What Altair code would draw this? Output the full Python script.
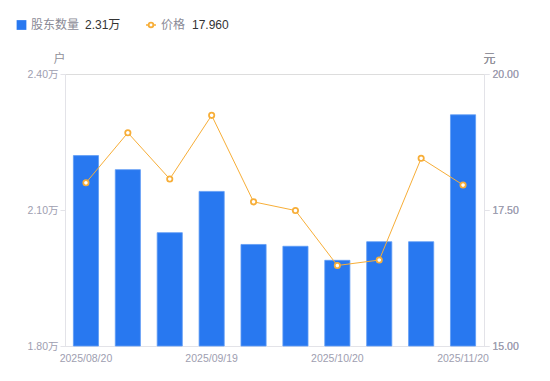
import altair as alt
import pandas as pd

dates = ["2025/08/20", "2025/08/31", "2025/09/10", "2025/09/19", "2025/09/30",
         "2025/10/10", "2025/10/20", "2025/10/31", "2025/11/10", "2025/11/20"]
holders = [2.220, 2.189, 2.050, 2.141, 2.024, 2.020, 1.989, 2.030, 2.030, 2.310]  # 万户
prices = [18.00, 18.92, 18.07, 19.24, 17.65, 17.49, 16.48, 16.58, 18.45, 17.96]
x_label_dates = ["2025/08/20", "2025/09/19", "2025/10/20", "2025/11/20"]
left_ticks = [1.80, 2.10, 2.40]
right_ticks = [15.00, 17.50, 20.00]

df = pd.DataFrame({"date": dates, "holders": holders, "price": prices})

FONT = "Liberation Sans, Arial, Noto Sans CJK SC"
BLUE = "#2878F0"
ORANGE = "#F7AE38"
LABEL = "#9e9eb0"
DOMAIN = "#e3e3e8"
W, H = 419, 272

x = alt.X("date:N", sort=dates, title=None,
          scale=alt.Scale(paddingInner=0.4, paddingOuter=0.2),
          axis=alt.Axis(values=x_label_dates, labelAngle=0, ticks=False,
                        labelPadding=7, labelColor=LABEL, labelFontSize=10.5,
                        labelFont=FONT, domainColor=DOMAIN))

bars = alt.Chart(df).mark_bar(color=BLUE, stroke="#5f9cf5", strokeWidth=0.8).encode(
    x=x,
    y=alt.Y("holders:Q", scale=alt.Scale(domain=[1.8, 2.4], zero=False, nice=False),
            axis=alt.Axis(values=left_ticks, labelExpr="format(datum.value, '.2f') + '万'",
                          grid=False, tickSize=5, tickColor=DOMAIN, domainColor=DOMAIN,
                          labelColor=LABEL, labelFontSize=10.5, labelFont=FONT, labelPadding=2,
                          title="户", titleAngle=0, titleX=-6, titleY=-16, titleAlign="center",
                          titleBaseline="middle", titleColor="#909099", titleFontSize=12,
                          titleFontWeight="normal", titleFont=FONT)),
    y2=alt.datum(1.8),
)

yr = alt.Y("price:Q", scale=alt.Scale(domain=[15, 20], zero=False, nice=False),
           axis=alt.Axis(orient="right", values=right_ticks, format=".2f", grid=False,
                         tickSize=5, tickColor=DOMAIN, domainColor=DOMAIN,
                         labelColor=LABEL, labelFontSize=10.5, labelFont=FONT, labelPadding=3,
                         title="元", titleAngle=0, titleX=5, titleY=-16, titleAlign="center",
                         titleBaseline="middle", titleColor="#909099", titleFontSize=12,
                         titleFontWeight="normal", titleFont=FONT))

line = alt.Chart(df).mark_line(color=ORANGE, strokeWidth=1).encode(x=x, y=yr)
pts = alt.Chart(df).mark_point(shape="circle", filled=True, fill="white", stroke=ORANGE,
                               strokeWidth=1.8, size=28, opacity=1).encode(x=x, y=yr)

# custom legend (top)
LY = -49
leg_sq = alt.Chart(df.head(1)).mark_square(color=BLUE, size=95, opacity=1).encode(
    x=alt.value(-43.5), y=alt.value(LY))
leg_t1 = alt.Chart(df.head(1)).mark_text(align="left", baseline="middle", font=FONT,
                                         fontSize=12, color="#8a8a96").encode(
    x=alt.value(-34), y=alt.value(LY), text=alt.value("股东数量"))
leg_v1 = alt.Chart(df.tail(1)).transform_calculate(
    t="format(datum.holders, '.2f') + '万'").mark_text(
    align="left", baseline="middle", font=FONT, fontSize=12, color="#333333").encode(
    x=alt.value(20), y=alt.value(LY), text="t:N")
leg_ln = alt.Chart(df.head(1)).mark_rule(color=ORANGE, strokeWidth=1.5).encode(
    x=alt.value(81), x2=alt.value(91), y=alt.value(LY))
leg_pt = alt.Chart(df.head(1)).mark_point(shape="circle", filled=True, fill="white",
                                          stroke=ORANGE, strokeWidth=1.8, size=22,
                                          opacity=1).encode(x=alt.value(86), y=alt.value(LY))
leg_t2 = alt.Chart(df.head(1)).mark_text(align="left", baseline="middle", font=FONT,
                                         fontSize=12, color="#8a8a96").encode(
    x=alt.value(96), y=alt.value(LY), text=alt.value("价格"))
leg_v2 = alt.Chart(df.tail(1)).transform_calculate(
    t="format(datum.price, '.3f')").mark_text(
    align="left", baseline="middle", font=FONT, fontSize=12, color="#333333").encode(
    x=alt.value(127), y=alt.value(LY), text="t:N")

chart = alt.layer(bars, line, pts, leg_sq, leg_t1, leg_v1, leg_ln, leg_pt, leg_t2, leg_v2
                  ).resolve_scale(y="independent").properties(
    width=W, height=H,
    autosize=alt.AutoSizeParams(type="none"),
    padding={"left": 57, "top": 66, "right": 50, "bottom": 20},
).configure_view(stroke=None).configure(background="white")

chart.save("out.html", embed_options={"renderer": "svg", "actions": False})
